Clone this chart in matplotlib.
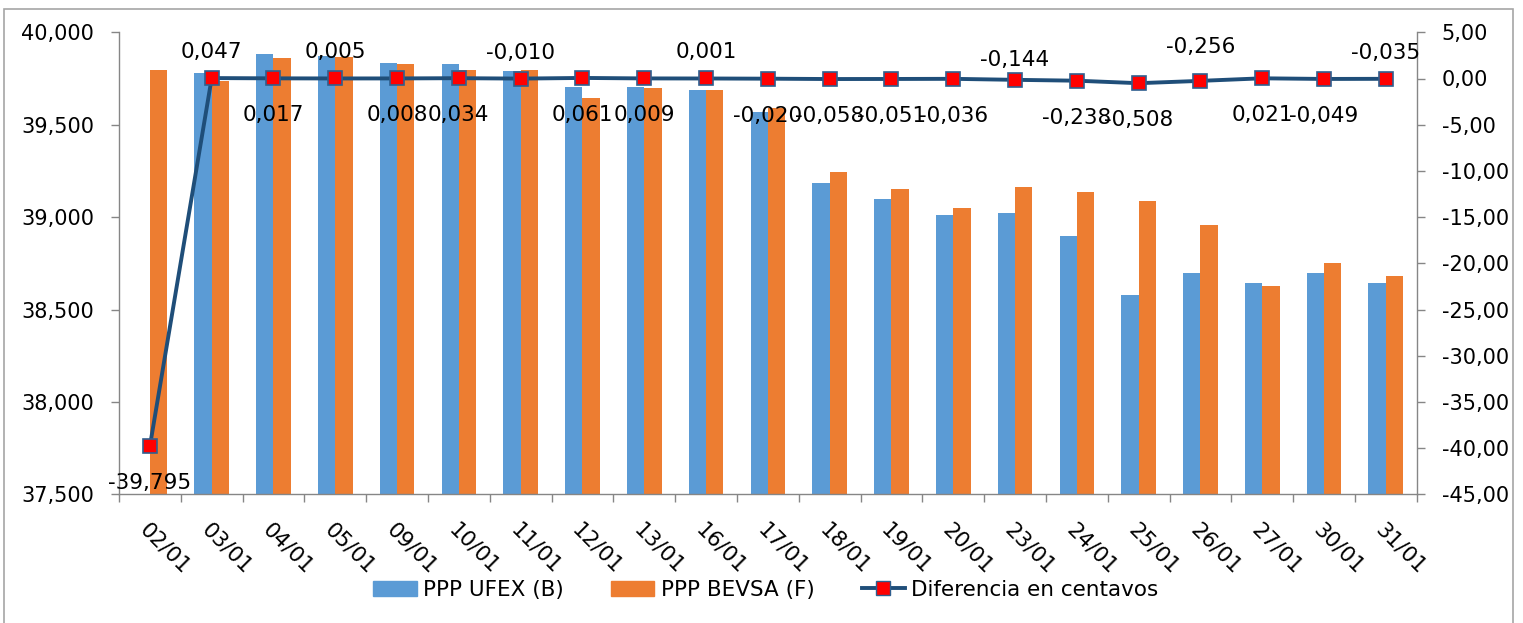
import numpy as np
import matplotlib
matplotlib.use("Agg")
from matplotlib import pyplot as plt
from matplotlib.patches import Rectangle
from matplotlib.lines import Line2D
from matplotlib.patches import Patch
from matplotlib.ticker import FuncFormatter

# datos
fechas = ["02/01", "03/01", "04/01", "05/01", "09/01", "10/01", "11/01", "12/01",
          "13/01", "16/01", "17/01", "18/01", "19/01", "20/01", "23/01", "24/01",
          "25/01", "26/01", "27/01", "30/01", "31/01"]
ppp_ufex = [np.nan, 39781, 39880, 39870, 39835, 39830, 39788, 39705, 39705, 39690,
            39570, 39184, 39100, 39013, 39020, 38900, 38578, 38700, 38646, 38700, 38646]
ppp_bevsa = [39795, 39734, 39863, 39865, 39827, 39796, 39798, 39644, 39696, 39689,
             39590, 39242, 39151, 39049, 39164, 39138, 39086, 38956, 38625, 38749, 38681]
diferencia = [-39.795, 0.047, 0.017, 0.005, 0.008, 0.034, -0.010, 0.061, 0.009, 0.001,
              -0.020, -0.058, -0.051, -0.036, -0.144, -0.238, -0.508, -0.256, 0.021,
              -0.049, -0.035]

# desplazamiento vertical de cada etiqueta (pixeles, + arriba)
label_dy = [-37, 26, -37, 26, -37, -37, 26, -37, -37, 26, -37, -37, -37, -37,
            20, -37, -37, 34, -37, -37, 26]

AZUL = "#5B9BD5"
NARANJA = "#ED7D31"
LINEA = "#1F4E79"
BORDE_MARCA = "#2F5F8F"
GRIS = "#868686"

plt.rcParams['font.family'] = ['DejaVu Sans']
plt.rcParams['font.size'] = 15

fig = plt.figure(figsize=(15.23, 6.23), dpi=100)
W, H = 1523, 623
ax = fig.add_axes([119 / W, 1 - 494.3 / H, (1416.7 - 119) / W, (494.3 - 32.3) / H])

x = np.arange(len(fechas))
bw = 0.28
ax.bar(x - bw / 2, ppp_ufex, width=bw, color=AZUL, label="PPP UFEX (B)", zorder=2)
ax.bar(x + bw / 2, ppp_bevsa, width=bw, color=NARANJA, label="PPP BEVSA (F)", zorder=2)

ax.set_xlim(-0.5, len(fechas) - 0.5)
ax.set_ylim(37500, 40000)
ax.set_yticks(np.arange(37500, 40001, 500))
ax.yaxis.set_major_formatter(FuncFormatter(lambda v, p: f"{v:,.0f}"))

ax.set_xticks(x)
ax.set_xticklabels(fechas, rotation=-45, ha="left", va="top", rotation_mode="anchor",
                   fontsize=15.5)
ax.set_xticks(np.arange(-0.5, len(fechas)), minor=True)
ax.tick_params(axis="x", which="major", length=0, pad=18)
ax.tick_params(axis="x", which="minor", length=6, color=GRIS, width=1)
ax.tick_params(axis="y", length=6, color=GRIS, width=1, pad=12)

for s in ["top", "right"]:
    ax.spines[s].set_visible(False)
for s in ["left", "bottom"]:
    ax.spines[s].set_color(GRIS)
    ax.spines[s].set_linewidth(1)

ax2 = ax.twinx()
ax2.plot(x, diferencia, color=LINEA, lw=2.8, marker="s", markersize=10,
         markerfacecolor="red", markeredgecolor=BORDE_MARCA, markeredgewidth=1.2, zorder=3)
ax2.set_ylim(-45, 5)
ax2.set_yticks(np.arange(-45, 6, 5))
ax2.yaxis.set_major_formatter(FuncFormatter(lambda v, p: f"{v:.2f}".replace(".", ",")))
ax2.tick_params(axis="y", length=6, color=GRIS, width=1, pad=12)
for s in ["top", "left", "bottom"]:
    ax2.spines[s].set_visible(False)
ax2.spines["right"].set_color(GRIS)
ax2.spines["right"].set_linewidth(1)

for xi, d, dy in zip(x, diferencia, label_dy):
    ax2.annotate(f"{d:.3f}".replace(".", ","), (xi, d), xytext=(0, dy),
                 textcoords="offset pixels", ha="center", va="center", fontsize=15.5,
                 zorder=4)

handles = [Patch(color=AZUL), Patch(color=NARANJA),
           Line2D([], [], color=LINEA, lw=2.8, marker="s", markersize=10,
                  markerfacecolor="red", markeredgecolor=BORDE_MARCA)]
fig.legend(handles, ["PPP UFEX (B)", "PPP BEVSA (F)", "Diferencia en centavos"],
           loc="center", bbox_to_anchor=(766 / W, 1 - 590 / H), ncol=3, frameon=False,
           handlelength=2.0, handletextpad=0.3, columnspacing=2.2, fontsize=15.5)

# borde del area del grafico
fig.patches.append(Rectangle((4 / W, -0.02), (1513 - 4) / W, 1.02 - 9 / H,
                             transform=fig.transFigure, fill=False,
                             edgecolor="#A6A6A6", lw=1.2))

fig.savefig("out.png", dpi=100)
